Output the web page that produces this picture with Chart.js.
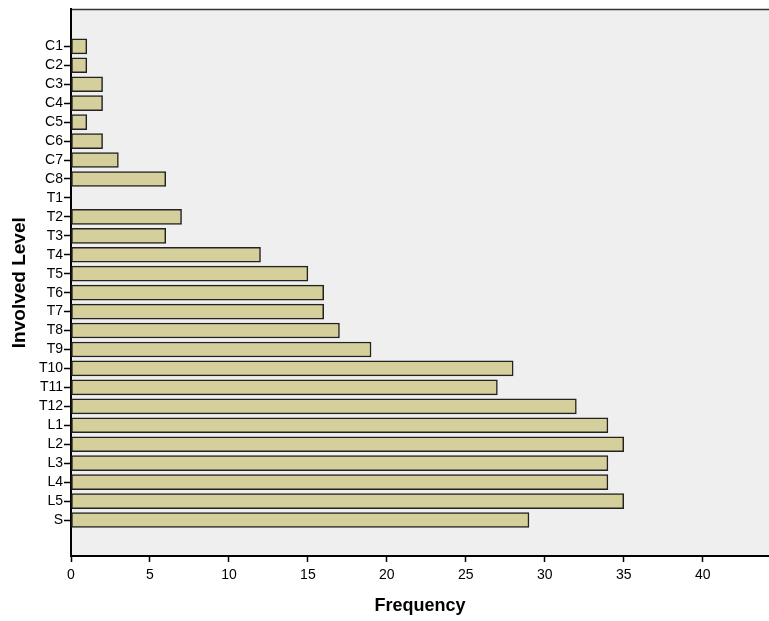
<!DOCTYPE html>
<html>
<head>
<meta charset="utf-8">
<script src="https://cdn.jsdelivr.net/npm/chart.js@4"></script>
<style>
  html, body { margin: 0; padding: 0; background: #fff; }
  #wrap { width: 769px; height: 621px; }
</style>
</head>
<body>
<div id="wrap"><canvas id="c"></canvas></div>
<script>
const levels = ['C1', 'C2', 'C3', 'C4', 'C5', 'C6', 'C7', 'C8',
    'T1', 'T2', 'T3', 'T4', 'T5', 'T6', 'T7', 'T8', 'T9', 'T10', 'T11', 'T12',
    'L1', 'L2', 'L3', 'L4', 'L5', 'S'];
const frequency = [1, 1, 2, 2, 1, 2, 3, 6,
    0, 7, 6, 12, 15, 16, 16, 17, 19, 28, 27, 32,
    34, 35, 34, 34, 35, 29];
const freqTicks = [0, 5, 10, 15, 20, 25, 30, 35, 40];

// grey plot panel + top frame line
const panel = {
    id: 'panel',
    beforeDraw(chart) {
        const a = chart.chartArea, g = chart.ctx;
        g.save();
        g.fillStyle = '#efefef';
        g.fillRect(a.left, a.top, a.right - a.left, a.bottom - a.top);
        g.strokeStyle = '#333';
        g.lineWidth = 1.5;
        g.beginPath();
        g.moveTo(a.left, a.top);
        g.lineTo(a.right, a.top);
        g.stroke();
        g.restore();
    }
};

new Chart(document.getElementById('c'), {
    type: 'bar',
    data: {
        datasets: [{
            label: 'Frequency',
            data: levels.map((l, i) => ({ x: frequency[i], y: i })),
            backgroundColor: '#d4cf9b',
            borderColor: '#222',
            borderWidth: 1.5,
            borderSkipped: false,
            barThickness: 15
        }]
    },
    options: {
        indexAxis: 'y',
        responsive: true,
        maintainAspectRatio: false,
        animation: false,
        layout: { padding: { top: 8, right: 0, left: 0, bottom: 0 } },
        plugins: {
            legend: { display: false },
            tooltip: { enabled: false }
        },
        scales: {
            x: {
                type: 'linear',
                min: 0,
                max: 44.2,
                afterBuildTicks(s) { s.ticks = freqTicks.map(v => ({ value: v })); },
                afterFit(s) { s.height = 65; },
                border: { color: '#000', width: 2 },
                grid: { drawOnChartArea: false, drawTicks: true, tickLength: 6, color: '#000', tickWidth: 1.5 },
                ticks: { color: '#000', padding: 5, maxRotation: 0, font: { family: 'Liberation Sans, Arial', size: 14 } },
                title: {
                    display: true,
                    text: 'Frequency',
                    color: '#000',
                    padding: { top: 0, bottom: 4 },
                    font: { family: 'Liberation Sans, Arial', size: 18, weight: 'bold' }
                }
            },
            y: {
                type: 'linear',
                reverse: true,
                offset: false,
                min: -1.95,
                max: 26.9,
                afterBuildTicks(s) { s.ticks = levels.map((l, i) => ({ value: i })); },
                afterFit(s) { s.width = 71; },
                border: { color: '#000', width: 2 },
                grid: { offset: false, drawOnChartArea: false, drawTicks: true, tickLength: 7, color: '#000', tickWidth: 1.5 },
                ticks: {
                    color: '#000',
                    padding: 1,
                    autoSkip: false,
                    font: { family: 'Liberation Sans, Arial', size: 14 },
                    callback: v => levels[v]
                },
                title: {
                    display: true,
                    text: 'Involved Level',
                    color: '#000',
                    padding: { top: 8, bottom: 0 },
                    font: { family: 'Liberation Sans, Arial', size: 19, weight: 'bold' }
                }
            }
        }
    },
    plugins: [panel]
});
</script>
</body>
</html>
